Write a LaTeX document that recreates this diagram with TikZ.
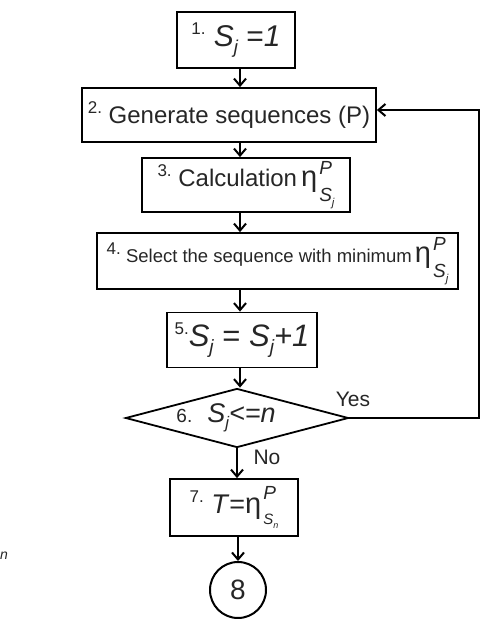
\documentclass[tikz,border=0pt]{standalone}
\usepackage{fontspec}
\setmainfont{Liberation Sans}
\usepackage{graphicx}
\usetikzlibrary{arrows.meta, shapes.geometric, positioning}

\newcommand{\stepno}[1]{\raisebox{0.75ex}{\fontsize{17}{17}\selectfont #1}}
\newcommand{\lo}[1]{\raisebox{-0.45ex}{\scalebox{0.62}{\itshape #1}}}
% eta with P on top and S_x below: eta size, P size, P raise, S size, S drop, index
\newcommand{\etaps}[6]{{\fontsize{#1}{#1}\selectfont η}\kern2pt\rlap{\raisebox{#3}{\fontsize{#2}{#2}\selectfont\itshape P}}\raisebox{-#5}{\fontsize{#4}{#4}\selectfont\itshape S\raisebox{-0.3em}{\scalebox{0.6}{#6}}}}

\tikzset{
	box/.style={draw, line width=1.8pt, inner sep=2pt, text=black!85},
	arr/.style={line width=2pt, -{Straight Barb[length=7pt,width=12pt]}},
	lbl/.style={text=black!85, font=\fontsize{21}{21}\selectfont}
}

\begin{document}
\begin{tikzpicture}[x=1pt, y=-1pt]
	\useasboundingbox (0,0) rectangle (483,619);
	\coordinate (ax) at (240,0);
	\coordinate (loop) at (479,110);
	% steps
	\node[box, minimum width=118pt, minimum height=56pt, font=\fontsize{30}{30}\selectfont] (b1) at (236,40) {\stepno{1.}\ \textit{S}\lo{j} =\textit{1}};
	\node[box, minimum width=294pt, minimum height=54pt, font=\fontsize{24}{24}\selectfont] (b2) at (229,115) {\stepno{2.}\ Generate sequences (P)};
	\node[box, minimum width=208pt, minimum height=54pt, font=\fontsize{24}{24}\selectfont] (b3) at (246,185) {\stepno{3.}\ Calculation\,\etaps{29}{19}{12pt}{19}{15pt}{j}};
	\node[box, minimum width=361pt, minimum height=56pt, font=\fontsize{18.5}{18.5}\selectfont] (b4) at (277.5,261) {\stepno{4.}\ Select the sequence with minimum\,\etaps{29}{19}{12pt}{19}{15pt}{j}};
	\node[box, minimum width=150pt, minimum height=55pt, font=\fontsize{31}{31}\selectfont] (b5) at (242,340) {\stepno{5.}\textit{S}\lo{j} = \textit{S}\lo{j}\textit{+1}};
	\node[draw, diamond, aspect=3.8, line width=1.8pt, inner sep=0pt, minimum width=223pt, minimum height=59pt, text=black!85, font=\fontsize{27}{27}\selectfont] (d6) at (237,418) {\makebox[0pt]{\hspace*{-22pt}{\fontsize{19}{19}\selectfont 6.}\ \ \textit{S}\lo{j}\textit{<=n}}};
	\node[box, minimum width=128pt, minimum height=57pt, font=\fontsize{27}{27}\selectfont] (b7) at (234,507.5) {\stepno{7.}\ \textit{T}=\etaps{29}{19}{14pt}{15}{11pt}{n}};
	\node[draw, circle, line width=2pt, minimum size=56pt, inner sep=0pt, text=black!85, font=\fontsize{28}{28}\selectfont] (c8) at (238,590) {8};
	% labels
	\node[lbl] (yes) at (353,399) {Yes};
	\node[lbl] (no) at (267,457) {No};
	\node[lbl, anchor=west, inner sep=0pt, font=\fontsize{14}{14}\selectfont\itshape] (stray) at (0,556) {n};
	% connectors
	\draw[arr] (b1.south -| ax) -- (b2.north -| ax);
	\draw[arr] (b2.south -| ax) -- (b3.north -| ax);
	\draw[arr] (b3.south -| ax) -- (b4.north -| ax);
	\draw[arr] (b4.south -| ax) -- (b5.north -| ax);
	\draw[arr] (b5.south -| ax) -- (d6.north -| ax);
	\draw[arr] (d6.south) -- (d6.south |- b7.north);
	\draw[arr] (b7.south -| c8) -- (c8.north);
	\draw[arr] (d6.east) -| (loop) -- (loop -| b2.east);
\end{tikzpicture}
\end{document}
